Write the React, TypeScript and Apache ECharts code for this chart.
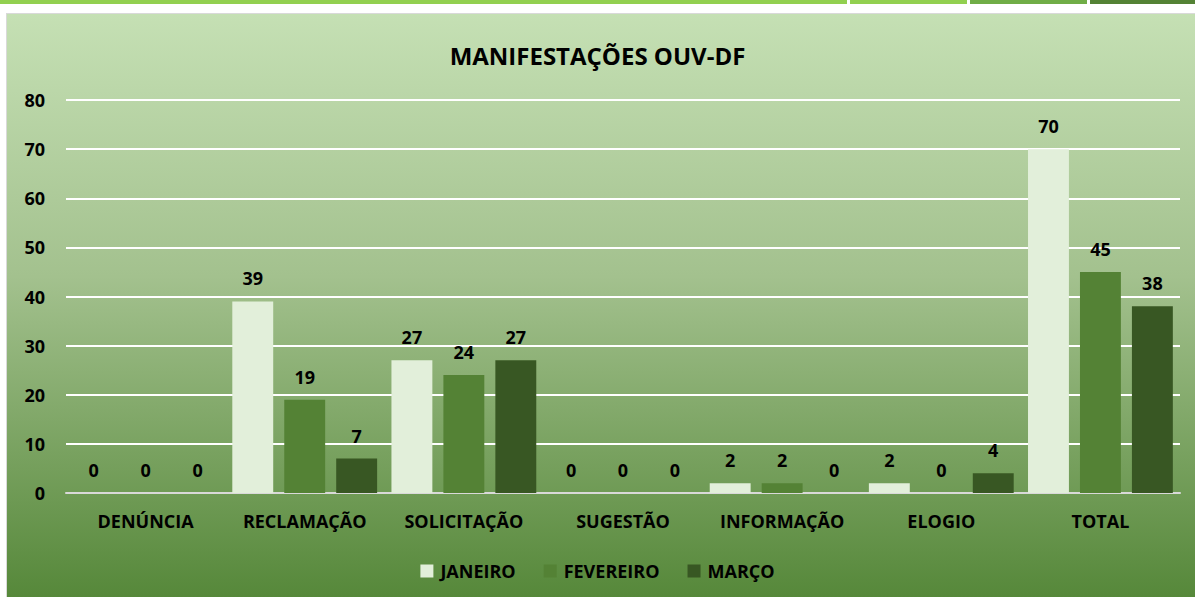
import React, { useEffect, useRef } from "react";
import * as echarts from "echarts";

const categories = ["DENÚNCIA", "RECLAMAÇÃO", "SOLICITAÇÃO", "SUGESTÃO", "INFORMAÇÃO", "ELOGIO", "TOTAL"];
const janeiro = [0, 39, 27, 0, 2, 2, 70];
const fevereiro = [0, 19, 24, 0, 2, 0, 45];
const marco = [0, 7, 27, 0, 0, 4, 38];
const seriesNames = ["JANEIRO", "FEVEREIRO", "MARÇO"];
const seriesColors = ["#E2EFDA", "#548235", "#385723"];

const FONT = "'Open Sans', 'Noto Sans', sans-serif";

export default function App() {
  const ref = useRef<HTMLDivElement>(null);
  useEffect(() => {
    const chart = echarts.init(ref.current!, undefined, { renderer: "svg" });
    const dataSets = [janeiro, fevereiro, marco];
    chart.setOption({
      animation: false,
      backgroundColor: "#ffffff",
      graphic: [
        { type: "rect", shape: { x: 0, y: 0, width: 847, height: 4 }, style: { fill: "#92D050" }, z: -10 },
        { type: "rect", shape: { x: 850, y: 0, width: 117, height: 4 }, style: { fill: "#92D050" }, z: -10 },
        { type: "rect", shape: { x: 970, y: 0, width: 117, height: 4 }, style: { fill: "#70AD47" }, z: -10 },
        { type: "rect", shape: { x: 1090, y: 0, width: 105, height: 4 }, style: { fill: "#548235" }, z: -10 },
        {
          type: "rect",
          shape: { x: 6, y: 13, width: 1189, height: 584 },
          style: { fill: "#D9D9D9" },
          z: -10,
        },
        {
          type: "rect",
          shape: { x: 7, y: 14, width: 1188, height: 583 },
          style: {
            fill: new echarts.graphic.LinearGradient(0, 0, 0, 1, [
              { offset: 0, color: "#C5E0B4" },
              { offset: 0.45, color: "#A3C18E" },
              { offset: 1, color: "#56883A" },
            ]),
          },
          z: -9,
        },
      ],
      title: {
        text: "MANIFESTAÇÕES OUV-DF",
        left: "center",
        top: 38,
        textStyle: { fontFamily: FONT, fontSize: 24, fontWeight: "bold", color: "#000000" },
      },
      legend: {
        bottom: 12,
        left: "center",
        itemWidth: 13,
        itemHeight: 13,
        itemGap: 28,
        icon: "rect",
        textStyle: { fontFamily: FONT, fontSize: 18, fontWeight: "bold", color: "#000000", padding: [0, 0, 0, 2] },
        data: seriesNames,
      },
      grid: { left: 66, right: 15, top: 100, bottom: 104, containLabel: false },
      xAxis: {
        type: "category",
        data: categories,
        axisLine: { lineStyle: { color: "#D9D9D9", width: 2 } },
        axisTick: { show: false },
        axisLabel: { interval: 0, fontFamily: FONT, fontSize: 18, fontWeight: "bold", color: "#000000", margin: 19 },
      },
      yAxis: {
        type: "value",
        min: 0,
        max: 80,
        interval: 10,
        axisLine: { show: false },
        axisTick: { show: false },
        splitLine: { lineStyle: { color: "#FFFFFF", width: 2 } },
        axisLabel: { fontFamily: FONT, fontSize: 18, fontWeight: "bold", color: "#000000", margin: 21 },
      },
      series: seriesNames.map((name, i) => ({
        name,
        type: "bar",
        data: dataSets[i],
        barGap: "27%",
        barCategoryGap: "9%",
        itemStyle: { color: seriesColors[i] },
        label: {
          show: true,
          position: "top",
          distance: 14,
          fontFamily: FONT,
          fontSize: 18,
          fontWeight: "bold",
          color: "#000000",
        },
      })),
    });
    return () => chart.dispose();
  }, []);
  return (
    <div
      ref={ref}
      style={{ position: "fixed", left: 0, top: 0, width: 1195, height: 597 }}
    />
  );
}
